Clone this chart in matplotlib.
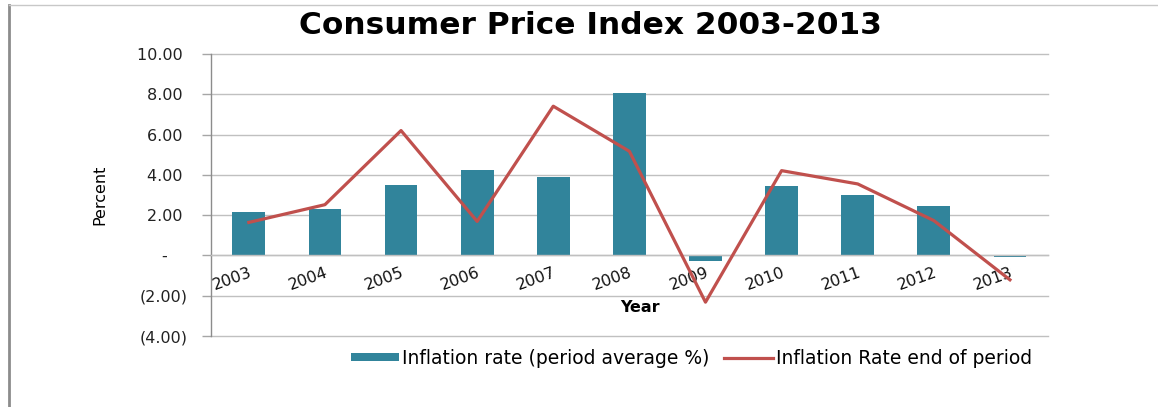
import matplotlib
matplotlib.use("Agg")
import matplotlib.pyplot as plt
from matplotlib.lines import Line2D
from matplotlib.ticker import FuncFormatter

plt.rcParams["font.family"] = ["DejaVu Sans"]

years = ["2003", "2004", "2005", "2006", "2007", "2008", "2009", "2010", "2011", "2012", "2013"]
avg_rate = [2.16, 2.31, 3.48, 4.25, 3.88, 8.04, -0.30, 3.47, 3.02, 2.44, -0.07]
end_rate = [1.64, 2.52, 6.20, 1.69, 7.41, 5.17, -2.32, 4.21, 3.55, 1.73, -1.21]
yticks = [-4, -2, 0, 2, 4, 6, 8, 10]

bar_color = "#31849B"
line_color = "#C0504D"
grid_color = "#C0C0C0"

fig = plt.figure(figsize=(11.58, 4.07), dpi=100)
ax = fig.add_axes([0.182, 0.1744, 0.723, 0.6929])

x = list(range(len(years)))
bars = ax.bar(x, avg_rate, width=0.43, color=bar_color, zorder=2,
              label="Inflation rate (period average %)")
line, = ax.plot(x, end_rate, color=line_color, lw=2.3, zorder=3,
                label="Inflation Rate end of period")

ax.set_xlim(-0.5, len(years) - 0.5)
ax.set_ylim(-4, 10)
ax.set_yticks(yticks)


def fmt(v, pos):
    if abs(v) < 1e-9:
        return "-    "
    if v < 0:
        return f"({abs(v):.2f})"
    return f"{v:.2f} "


ax.yaxis.set_major_formatter(FuncFormatter(fmt))
ax.grid(axis="y", color=grid_color, lw=1, zorder=0)
for gl in ax.get_ygridlines():
    gl.set_clip_on(False)
ax.set_axisbelow(True)

for s in ["top", "right"]:
    ax.spines[s].set_visible(False)
ax.spines["left"].set_color("#8C8C8C")
ax.spines["left"].set_linewidth(1.0)
ax.spines["bottom"].set_position(("data", 0))
ax.spines["bottom"].set_color(grid_color)
ax.spines["bottom"].set_linewidth(1.0)

ax.tick_params(axis="y", length=6.5, color="#A6A6A6", width=1, pad=10,
               labelsize=11.5, labelcolor="#222222")
ax.set_xticks(x)
ax.set_xticklabels(years, rotation=20, ha="right", va="top",
                   rotation_mode="anchor", fontsize=11.5)
ax.tick_params(axis="x", length=0, pad=7, labelcolor="#111111")

ax.text(5.14, -2.6, "Year", ha="center", va="center",
        fontsize=11.5, fontweight="bold")

fig.text(0.51, 0.938, "Consumer Price Index 2003-2013", ha="center", va="center",
         fontsize=22.5, fontweight="bold")

fig.text(0.086, 0.521, "Percent", rotation=90, ha="center", va="center",
         fontsize=11.5, family=["Liberation Sans Narrow", "DejaVu Sans"])

leg = fig.legend([bars, line], [bars.get_label(), line.get_label()],
                 loc="center", bbox_to_anchor=(0.597, 0.12), ncol=2, frameon=False,
                 fontsize=13.5, handlelength=2.6, handleheight=0.35,
                 handletextpad=0.15, columnspacing=0.8)

fig.add_artist(Line2D([0.0075, 0.0075], [0, 0.988], transform=fig.transFigure,
                      color="#8C8C8C", lw=2))
fig.add_artist(Line2D([0.0075, 1.0], [0.988, 0.988], transform=fig.transFigure,
                      color="#C8C8C8", lw=1))

fig.savefig("out.png", dpi=100)
